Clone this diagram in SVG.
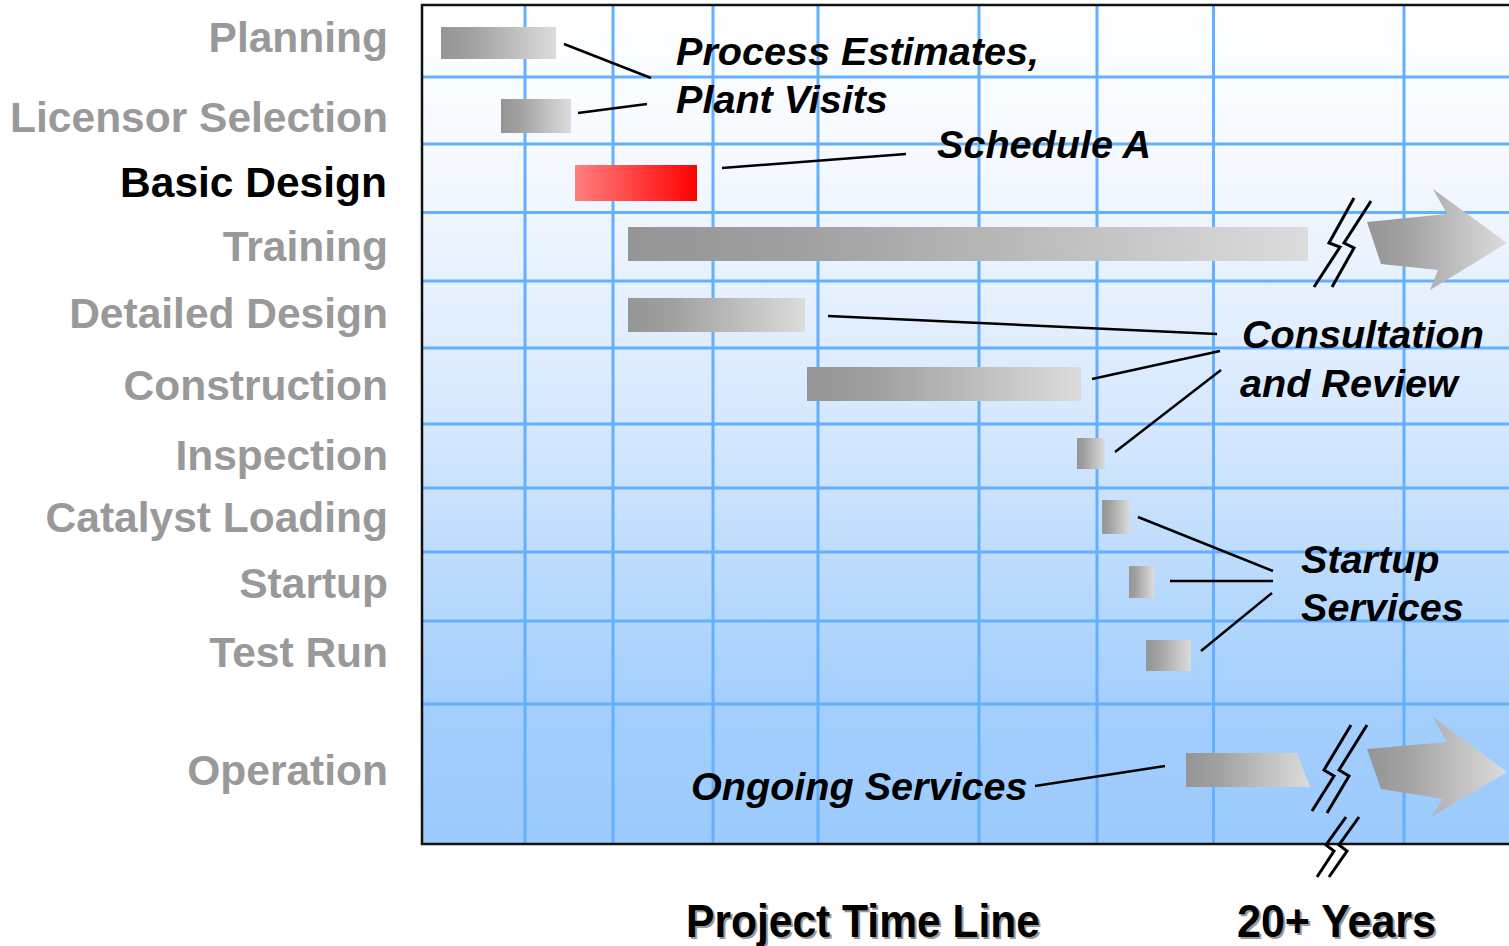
<svg xmlns="http://www.w3.org/2000/svg" width="1509" height="946" viewBox="0 0 1509 946">
  <defs>
    <linearGradient id="bg" x1="0" y1="0" x2="0" y2="1">
      <stop offset="0" stop-color="#ffffff"/>
      <stop offset="0.2" stop-color="#f4f8ff"/>
      <stop offset="0.5" stop-color="#d6e8fe"/>
      <stop offset="0.83" stop-color="#a4cffd"/>
      <stop offset="1" stop-color="#9bcafd"/>
    </linearGradient>
    <linearGradient id="grey" x1="0" y1="0" x2="1" y2="0">
      <stop offset="0" stop-color="#959595"/>
      <stop offset="0.25" stop-color="#a0a0a0"/>
      <stop offset="1" stop-color="#dcdcdc"/>
    </linearGradient>
    <linearGradient id="red" x1="0" y1="0" x2="1" y2="0">
      <stop offset="0" stop-color="#ff8080"/>
      <stop offset="1" stop-color="#ff0000"/>
    </linearGradient>
    <style>
      .grid { stroke: #62b0ff; stroke-width: 3; fill: none; }
      .lbl { font-family: "Liberation Sans", Arial, sans-serif; font-weight: bold; font-size: 42.5px; fill: #999999; text-anchor: end; }
      .lbl.on { fill: #000000; }
      .note { font-family: "Liberation Sans", Arial, sans-serif; font-weight: bold; font-style: italic; font-size: 39.6px; fill: #000000; }
      .axis { font-family: "Liberation Sans", Arial, sans-serif; font-weight: bold; font-size: 46px; }
      .bar { fill: url(#grey); }
      .conn { stroke: #000000; stroke-width: 2.5; fill: none; }
      .brk { stroke: #000000; stroke-width: 3; fill: none; stroke-linejoin: miter; }
    </style>
  </defs>

  <!-- chart background and frame -->
  <rect x="422" y="5" width="1100" height="839" fill="url(#bg)"/>

  <!-- grid -->
  <g id="grid" class="grid">
    <line x1="422" y1="77" x2="1509" y2="77"/>
    <line x1="422" y1="144" x2="1509" y2="144"/>
    <line x1="422" y1="212.5" x2="1509" y2="212.5"/>
    <line x1="422" y1="281" x2="1509" y2="281"/>
    <line x1="422" y1="348" x2="1509" y2="348"/>
    <line x1="422" y1="424" x2="1509" y2="424"/>
    <line x1="422" y1="488" x2="1509" y2="488"/>
    <line x1="422" y1="552" x2="1509" y2="552"/>
    <line x1="422" y1="621" x2="1509" y2="621"/>
    <line x1="422" y1="704" x2="1509" y2="704"/>
    <line x1="525" y1="5" x2="525" y2="844"/>
    <line x1="613" y1="5" x2="613" y2="844"/>
    <line x1="713" y1="5" x2="713" y2="844"/>
    <line x1="818" y1="5" x2="818" y2="844"/>
    <line x1="979" y1="5" x2="979" y2="844"/>
    <line x1="1097" y1="5" x2="1097" y2="844"/>
    <line x1="1213.5" y1="5" x2="1213.5" y2="844"/>
    <line x1="1404" y1="5" x2="1404" y2="844"/>
  </g>
  <path id="frame" d="M1512 5 H422 V844 H1512" fill="none" stroke="#111111" stroke-width="2.5"/>

  <!-- phase labels -->
  <g id="labels">
    <text class="lbl" x="388" y="52">Planning</text>
    <text class="lbl" x="388" y="132">Licensor Selection</text>
    <text class="lbl on" x="387" y="197">Basic Design</text>
    <text class="lbl" x="388" y="261">Training</text>
    <text class="lbl" x="388" y="328">Detailed Design</text>
    <text class="lbl" x="388" y="400">Construction</text>
    <text class="lbl" x="388" y="470">Inspection</text>
    <text class="lbl" x="388" y="532">Catalyst Loading</text>
    <text class="lbl" x="388" y="598">Startup</text>
    <text class="lbl" x="388" y="667">Test Run</text>
    <text class="lbl" x="388" y="785">Operation</text>
  </g>

  <!-- activity bars -->
  <g id="bar-planning"><rect class="bar" x="441" y="27" width="115" height="32"/></g>
  <g id="bar-licensor"><rect class="bar" x="501" y="99" width="70" height="34"/></g>
  <g id="bar-basic"><rect x="575" y="165" width="122" height="36" fill="url(#red)"/></g>
  <g id="bar-training">
    <rect class="bar" x="628" y="227" width="680" height="34"/>
    <polygon class="bar" points="1367,222 1447,214 1433,189 1507,243 1430,290 1438,270 1381,264"/>
  </g>
  <g id="bar-detailed"><rect class="bar" x="628" y="298" width="177" height="34"/></g>
  <g id="bar-construction"><rect class="bar" x="807" y="367" width="274" height="34"/></g>
  <g id="bar-inspection"><rect class="bar" x="1077" y="438" width="28" height="31"/></g>
  <g id="bar-catalyst"><rect class="bar" x="1102" y="500" width="28" height="34"/></g>
  <g id="bar-startup"><rect class="bar" x="1129" y="566" width="25" height="32"/></g>
  <g id="bar-testrun"><rect class="bar" x="1146" y="640" width="45" height="31"/></g>
  <g id="bar-operation">
    <polygon class="bar" points="1186,753 1297,753 1310,787 1186,787"/>
    <polygon class="bar" points="1367,749 1447,742 1433,717 1507,772 1431,817 1443,799 1381,789"/>
  </g>

  <!-- time breaks -->
  <g id="breaks" class="brk">
    <polyline points="1354,198 1329,243 1340,247 1314,287"/>
    <polyline points="1371,201 1344,243 1354,248 1332,287"/>
    <polyline points="1351,725 1324,770 1334,776 1312,811"/>
    <polyline points="1367,725 1339,770 1349,776 1327,813"/>
    <polyline points="1346,817 1326,845 1334,851 1317,877"/>
    <polyline points="1359,817 1339,845 1347,851 1329,877"/>
  </g>

  <!-- annotations -->
  <g id="note-process">
    <text class="note" x="676" y="65">Process Estimates,</text>
    <text class="note" x="676" y="113">Plant Visits</text>
  </g>
  <g id="note-schedule"><text class="note" x="937" y="158">Schedule A</text></g>
  <g id="note-consult">
    <text class="note" x="1242" y="348">Consultation</text>
    <text class="note" x="1240" y="397">and Review</text>
  </g>
  <g id="note-startup">
    <text class="note" x="1301" y="573">Startup</text>
    <text class="note" x="1301" y="621">Services</text>
  </g>
  <g id="note-ongoing"><text class="note" x="691" y="800">Ongoing Services</text></g>

  <!-- leader lines -->
  <g id="connectors" class="conn">
    <line x1="564" y1="44" x2="651" y2="78"/>
    <line x1="578" y1="113" x2="647" y2="104"/>
    <line x1="722" y1="168" x2="906" y2="154"/>
    <line x1="828" y1="316" x2="1217" y2="334"/>
    <line x1="1092" y1="379" x2="1220" y2="351"/>
    <line x1="1115" y1="452" x2="1221" y2="370"/>
    <line x1="1138" y1="517" x2="1273" y2="571"/>
    <line x1="1170" y1="581" x2="1273" y2="581"/>
    <line x1="1201" y1="651" x2="1272" y2="593"/>
    <line x1="1035" y1="786" x2="1165" y2="766"/>
  </g>

  <!-- axis captions -->
  <g id="axis">
    <text class="axis" x="688" y="939" fill="#9a9a9a" textLength="354" lengthAdjust="spacingAndGlyphs">Project Time Line</text>
    <text class="axis" x="686" y="937" fill="#000000" textLength="354" lengthAdjust="spacingAndGlyphs">Project Time Line</text>
    <text class="axis" x="1239" y="939" fill="#9a9a9a" textLength="199" lengthAdjust="spacingAndGlyphs">20+ Years</text>
    <text class="axis" x="1237" y="937" fill="#000000" textLength="199" lengthAdjust="spacingAndGlyphs">20+ Years</text>
  </g>
</svg>
